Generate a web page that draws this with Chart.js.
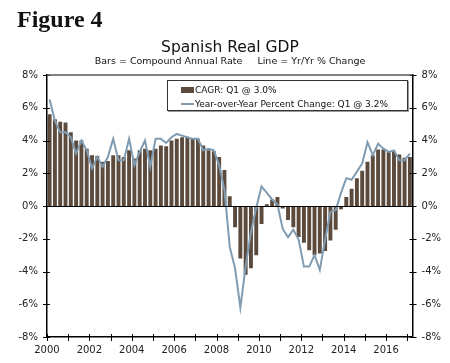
<!DOCTYPE html>
<html>
<head>
<meta charset="utf-8">
<script src="https://cdn.jsdelivr.net/npm/chart.js@4.4.1/dist/chart.umd.min.js"></script>
<style>
  body { margin: 0; background: #fff; }
  #wrap { position: relative; width: 450px; height: 363px; font-family: "DejaVu Sans", Verdana, sans-serif; color: #111; }
  #c { position: absolute; left: 0; top: 0; }
  #fig { position: absolute; left: 17px; top: 7px; font: bold 24px/24px "Liberation Serif", "Times New Roman", serif; color: #111; }
  #title { position: absolute; left: 0; width: 460px; top: 38px; text-align: center; font-size: 15.5px; line-height: 18px; }
  #subtitle { position: absolute; left: 0; width: 460px; top: 55px; text-align: center; font-size: 9.5px; line-height: 12px; white-space: pre; }
  #legend { position: absolute; left: 167px; top: 80px; width: 241px; height: 31px; box-sizing: border-box;
            border: 1px solid #333; background: #fff; box-shadow: 1px 1px 0 #999; }
  .item { position: absolute; left: 13px; height: 12px; display: flex; align-items: center; font-size: 9px; line-height: 12px; white-space: nowrap; }
  .sw-bar { display: inline-block; width: 13px; height: 6px; margin-right: 1px; }
  .sw-line { display: inline-block; width: 13px; height: 2.5px; margin-right: 1px; }
</style>
</head>
<body>
<div id="wrap">
  <canvas id="c" width="450" height="363"></canvas>
  <div id="fig">Figure 4</div>
  <div id="title">Spanish Real GDP</div>
  <div id="subtitle">Bars = Compound Annual Rate     Line = Yr/Yr % Change</div>
  <div id="legend"></div>
</div>
<script>
// quarterly data, 2000 Q1 .. 2017 Q1
const startYear = 2000;

// compound annual rate (bars)
const cagr = [
  5.6, 5.3, 5.15, 5.1,
  4.5, 4.0, 4.0, 3.5,
  3.1, 3.05, 2.7, 2.75,
  3.1, 3.1, 3.0, 3.4,
  2.9, 3.4, 3.5, 3.4,
  3.5, 3.7, 3.65, 4.0,
  4.1, 4.2, 4.2, 4.15,
  4.1, 3.7, 3.4, 3.35,
  3.0, 2.2, 0.6, -1.3,
  -3.2, -4.2, -3.8, -3.0,
  -1.1, 0.1, 0.4, 0.55,
  -0.15, -0.85, -1.3, -1.9,
  -2.25, -2.7, -3.0, -2.9,
  -2.75, -2.1, -1.45, -0.2,
  0.55, 1.05, 1.7, 2.15,
  2.7, 3.1, 3.45, 3.45,
  3.3, 3.35, 3.15, 2.95,
  3.0
];

// year-over-year percent change (line)
const yoy = [
  6.5, 5.2, 4.5, 4.5,
  4.2, 3.2, 4.0, 3.4,
  2.3, 3.0, 2.4, 3.0,
  4.1, 2.8, 2.8, 4.1,
  2.5, 3.3, 4.0, 2.4,
  4.1, 4.1, 3.85, 4.2,
  4.4, 4.3, 4.2, 4.1,
  4.1, 3.4, 3.5, 3.4,
  2.5, 1.0, -2.5, -3.8,
  -6.2, -3.7, -1.6, -0.1,
  1.2, 0.8, 0.4, 0.1,
  -1.4, -1.9, -1.45, -2.05,
  -3.7, -3.7, -3.0, -3.9,
  -2.05, -0.35, -0.25, 0.8,
  1.7, 1.6, 2.1, 2.6,
  3.9, 3.1, 3.8, 3.5,
  3.3, 3.4, 2.8, 2.8,
  3.2
];

const xTickLabels = ['2000', '2002', '2004', '2006', '2008', '2010', '2012', '2014', '2016'];
const yTickValues = [-8, -6, -4, -2, 0, 2, 4, 6, 8];

const barColor = '#5c4b3d';
const lineColor = '#7f9cb3';
const tickFont = { family: '"DejaVu Sans", Verdana, sans-serif', size: 10 };

// bars sit in the middle of each quarter
const quarterPos = cagr.map((_, i) => startYear + (i + 0.5) / 4);
const lastCagr = cagr[cagr.length - 1].toFixed(1);
const lastYoy = yoy[yoy.length - 1].toFixed(1);

// zero line, top border and tick marks that cross the axes
const axisMarks = {
  id: 'axisMarks',
  afterDatasetsDraw(chart) {
    const { ctx, chartArea: a, scales: { x, y } } = chart;
    const seg = (x1, y1, x2, y2) => { ctx.beginPath(); ctx.moveTo(x1, y1); ctx.lineTo(x2, y2); ctx.stroke(); };
    ctx.save();
    ctx.strokeStyle = '#000';
    ctx.lineWidth = 1;
    const y0 = Math.round(y.getPixelForValue(0)) + 0.5;
    seg(a.left, y0, a.right, y0);
    yTickValues.forEach(v => {
      const p = Math.round(y.getPixelForValue(v)) + 0.5;
      seg(a.left - 4, p, a.left + 3, p);
      seg(a.right - 3, p, a.right + 4, p);
    });
    x.ticks.forEach(t => {
      if (!Number.isInteger(t.value)) return;
      const p = Math.round(x.getPixelForValue(t.value)) + 0.5;
      seg(p, a.bottom - 3, p, a.bottom + 4);
    });
    ctx.strokeStyle = '#555';
    ctx.lineWidth = 1.5;
    seg(a.left, a.top, a.right, a.top);
    ctx.restore();
  }
};

const yAxis = (position) => ({
  position: position,
  min: -8,
  max: 8,
  ticks: {
    stepSize: 2,
    padding: 9,
    color: '#222',
    font: tickFont,
    callback: v => v + '%'
  },
  grid: { display: false, drawTicks: false },
  border: { display: true, color: '#000', width: 1.5 }
});

const chart = new Chart(document.getElementById('c'), {
  data: {
    datasets: [
      {
        type: 'bar',
        label: `CAGR: Q1 @ ${lastCagr}%`,
        data: cagr.map((v, i) => ({ x: quarterPos[i], y: v })),
        backgroundColor: barColor,
        barPercentage: 0.74,
        categoryPercentage: 1,
        yAxisID: 'y',
        order: 1
      },
      {
        type: 'line',
        label: `Year-over-Year Percent Change: Q1 @ ${lastYoy}%`,
        data: yoy.map((v, i) => ({ x: quarterPos[i], y: v })),
        borderColor: lineColor,
        borderWidth: 2,
        pointRadius: 0,
        tension: 0,
        yAxisID: 'y',
        order: 0
      }
    ]
  },
  options: {
    responsive: false,
    animation: false,
    layout: { padding: { left: 9.5, right: 0, top: 75, bottom: 0 } },
    plugins: {
      legend: { display: false },
      tooltip: { enabled: false }
    },
    scales: {
      x: {
        type: 'linear',
        min: 2000,
        max: 2017.25,
        offset: false,
        ticks: {
          stepSize: 1,
          autoSkip: false,
          maxRotation: 0,
          includeBounds: false,
          padding: 7,
          color: '#222',
          font: tickFont,
          callback: v => xTickLabels.includes(String(v)) ? String(v) : ''
        },
        grid: { display: false, drawTicks: false },
        border: { display: true, color: '#000', width: 1.5 }
      },
      y: yAxis('left'),
      y2: yAxis('right')
    }
  },
  plugins: [axisMarks]
});

// legend box built from the datasets
const legendEl = document.getElementById('legend');
chart.data.datasets.forEach((ds, i) => {
  const row = document.createElement('div');
  row.className = 'item';
  row.style.top = (i === 0 ? 3 : 17) + 'px';
  const sw = document.createElement('span');
  sw.className = ds.type === 'bar' ? 'sw-bar' : 'sw-line';
  sw.style.background = ds.type === 'bar' ? ds.backgroundColor : ds.borderColor;
  const txt = document.createElement('span');
  txt.textContent = ds.label;
  row.appendChild(sw);
  row.appendChild(txt);
  legendEl.appendChild(row);
});
</script>
</body>
</html>
